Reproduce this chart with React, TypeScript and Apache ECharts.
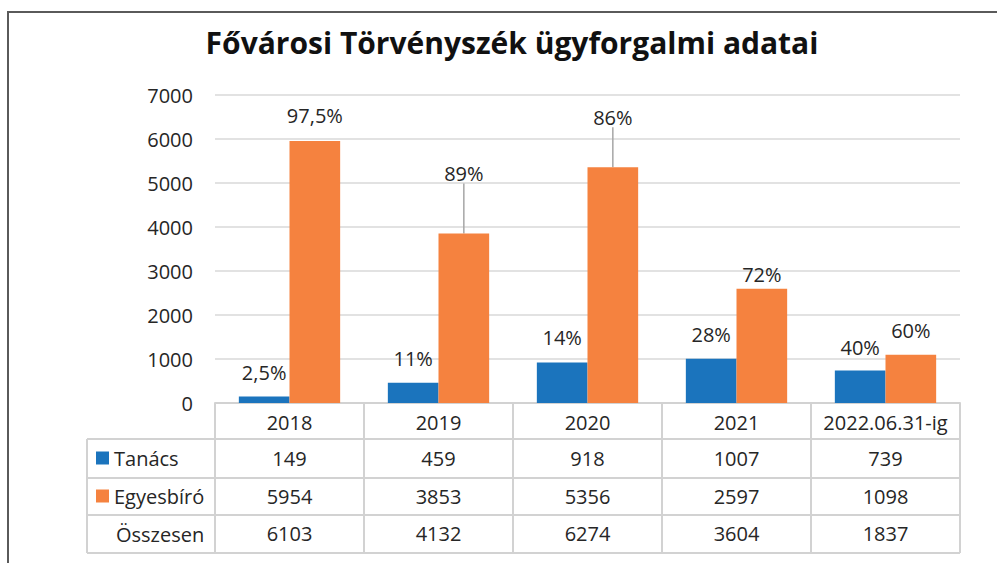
import React, { useEffect, useRef } from "react";
import * as echarts from "echarts";

const categories = ["2018", "2019", "2020", "2021", "2022.06.31-ig"];
const tanacs = [149, 459, 918, 1007, 739];
const egyesbiro = [5954, 3853, 5356, 2597, 1098];
const osszesen = [6103, 4132, 6274, 3604, 1837];
const tanacsPct = ["2,5%", "11%", "14%", "28%", "40%"];
const egyesPct = ["97,5%", "89%", "86%", "72%", "60%"];
const yTicks = [0, 1000, 2000, 3000, 4000, 5000, 6000, 7000];

const FONT = "'Open Sans', sans-serif";
const TXT = "#262626";
const BLUE = "#1b74bd";
const ORANGE = "#f5823f";
const TABLE = "#d2d2d2";

// label vertical tweaks (px) per series / category
const tanacsDy = [0, 0, -1, 0, 1];
const egyesDy = [-2, -36, -26, 10, 0];
const egyesLeader = [false, true, true, false, false];

export default function App() {
  const ref = useRef<HTMLDivElement>(null);
  useEffect(() => {
    if (!ref.current) return;
    const chart = echarts.init(ref.current, null, { renderer: "svg" });
    const gridLeft = 215, gridRight = 37, gridTop = 95, gridBottom = 160;
    const W = 997, H = 563;
    const rowLines = [439, 478, 515, 553];
    const tableLeft = 87;
    const tableRight = W - gridRight;
    const lineStyle = { stroke: TABLE, lineWidth: 2 };
    const graphics: any[] = [
      {
        type: "rect",
        shape: { x: 8, y: 12, width: 1200, height: 800 },
        style: { fill: "none", stroke: "#5a5a5a", lineWidth: 2 },
        silent: true,
      },
      {
        type: "text",
        x: 512,
        y: 42,
        style: {
          text: "Fővárosi Törvényszék ügyforgalmi adatai",
          font: `bold 30px ${FONT}`,
          fill: "#111",
          align: "center",
          verticalAlign: "middle",
        },
      },
      {
        type: "line",
        shape: { x1: tableLeft, y1: rowLines[0], x2: tableLeft, y2: rowLines[3] },
        style: lineStyle,
      },
      ...rowLines.map((y) => ({
        type: "line",
        shape: { x1: tableLeft, y1: y, x2: tableRight, y2: y },
        style: lineStyle,
      })),
      {
        type: "text",
        x: 116,
        y: 534,
        style: {
          text: "Összesen",
          font: `20px ${FONT}`,
          fill: TXT,
          align: "left",
          verticalAlign: "middle",
        },
      },
    ];

    const rowAxis = (data: (string | number)[], offset: number, first: boolean) => ({
      type: "category",
      data: data.map(String),
      position: "bottom",
      offset,
      gridIndex: 0,
      axisLine: first ? { show: true, lineStyle: { color: TABLE, width: 2 } } : { show: false },
      axisTick: first
        ? { show: true, length: 150, lineStyle: { color: TABLE, width: 2 } }
        : { show: false },
      splitLine: { show: false },
      axisLabel: {
        margin: 19,
        verticalAlign: "middle",
        color: TXT,
        fontSize: 20,
        fontFamily: FONT,
        interval: 0,
      },
    });

    chart.setOption({
      animation: false,
      grid: { left: gridLeft, right: gridRight, top: gridTop, bottom: gridBottom },
      legend: {
        orient: "vertical",
        left: 91,
        top: 443,
        itemWidth: 13,
        itemHeight: 13,
        itemGap: 18,
        icon: "rect",
        textStyle: { color: TXT, fontSize: 20, fontFamily: FONT },
        data: ["Tanács", "Egyesbíró"],
      },
      xAxis: [
        rowAxis(categories, 0, true),
        rowAxis(tanacs, 36, false),
        rowAxis(egyesbiro, 74, false),
        rowAxis(osszesen, 111, false),
      ],
      yAxis: {
        type: "value",
        min: yTicks[0],
        max: yTicks[yTicks.length - 1],
        interval: 1000,
        axisLine: { show: false },
        axisTick: { show: false },
        axisLabel: {
          margin: 22,
          color: TXT,
          fontSize: 20,
          fontFamily: FONT,
          formatter: (v: number) => String(v),
        },
        splitLine: { lineStyle: { color: "#d9d9d9", width: 1.5 } },
      },
      series: [
        {
          name: "Tanács",
          type: "bar",
          barGap: "0%",
          barCategoryGap: "32%",
          itemStyle: { color: BLUE },
          data: tanacs,
          label: {
            show: true,
            position: "top",
            distance: 14,
            color: TXT,
            fontSize: 20,
            fontFamily: FONT,
            formatter: (p: any) => tanacsPct[p.dataIndex],
          },
          labelLayout: (p: any) => ({ dy: tanacsDy[p.dataIndex] }),
        },
        {
          name: "Egyesbíró",
          type: "bar",
          barGap: "0%",
          barCategoryGap: "32%",
          itemStyle: { color: ORANGE },
          data: egyesbiro.map((v, i) => ({
            value: v,
            labelLine: { show: egyesLeader[i] },
          })),
          label: {
            show: true,
            position: "top",
            distance: 14,
            color: TXT,
            fontSize: 20,
            fontFamily: FONT,
            formatter: (p: any) => egyesPct[p.dataIndex],
          },
          labelLine: { show: false, lineStyle: { color: "#a6a6a6", width: 1.5 } },
          labelLayout: (p: any) => ({ dy: egyesDy[p.dataIndex] }),
        },
      ],
      graphic: graphics,
    });
    return () => chart.dispose();
  }, []);
  return (
    <div
      ref={ref}
      style={{ position: "fixed", left: 0, top: 0, width: 997, height: 563, background: "#fff" }}
    />
  );
}
